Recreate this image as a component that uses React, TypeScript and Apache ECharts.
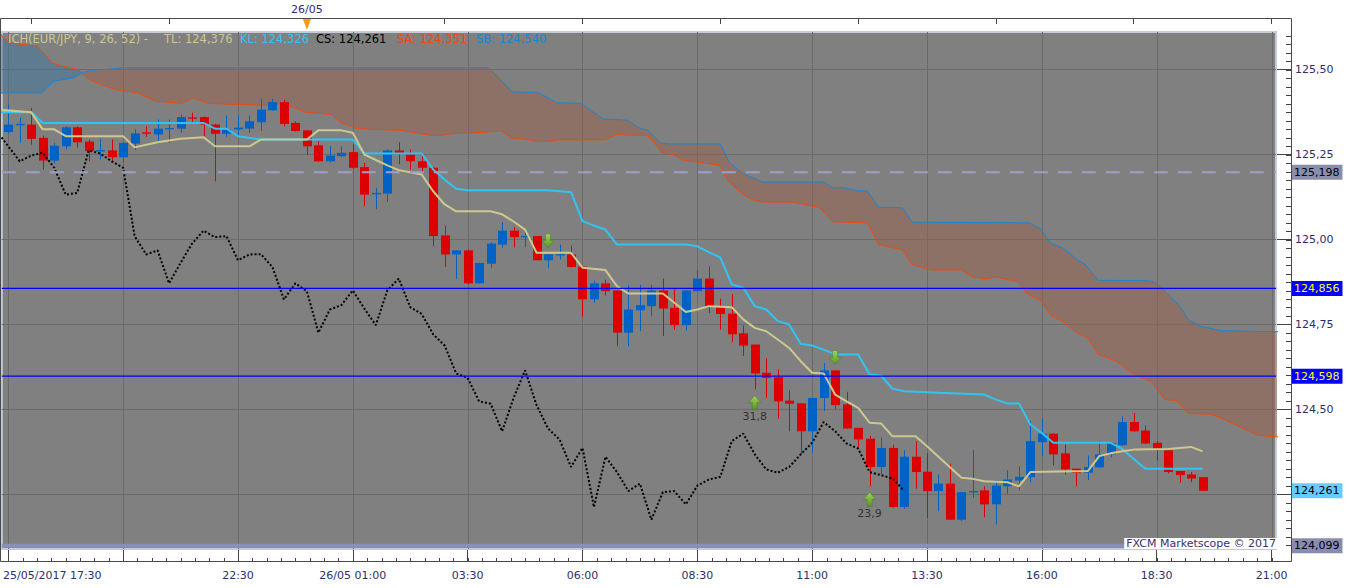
import React, { useEffect, useRef } from 'react';
import * as echarts from 'echarts';

// ---------- candles (15 min bars, index 0 = 25/05 17:30) ----------
const opens = [
  125.316, 125.336, 125.338, 125.299, 125.232, 125.274, 125.330, 125.288, 125.259, 125.262,
  125.242, 125.282, 125.315, 125.309, 125.325, 125.326, 125.359, 125.360, 125.338, 125.311,
  125.324, 125.326, 125.345, 125.380, 125.404, 125.343, 125.321, 125.277, 125.230, 125.245,
  125.257, 125.213, 125.133, 125.135, 125.262, 125.250, 125.230, 125.211, 125.012, 124.956,
  124.968, 124.871, 124.929, 124.985, 125.026, 125.008, 125.010, 124.939, 124.954, 124.956,
  124.920, 124.824, 124.871, 124.850, 124.726, 124.792, 124.804, 124.850, 124.799, 124.748,
  124.848, 124.885, 124.801, 124.782, 124.724, 124.691, 124.608, 124.595, 124.526, 124.518,
  124.436, 124.534, 124.615, 124.515, 124.446, 124.414, 124.331, 124.387, 124.213, 124.361,
  124.317, 124.260, 124.282, 124.176, 124.258, 124.262, 124.221, 124.274, 124.291, 124.301,
  124.404, 124.429, 124.371, 124.326, 124.314, 124.330, 124.368, 124.395, 124.463, 124.438,
  124.402, 124.380, 124.319, 124.309, 124.301,
];
const highs = [
  125.397, 125.358, 125.387, 125.306, 125.284, 125.333, 125.333, 125.294, 125.296, 125.294,
  125.286, 125.324, 125.333, 125.353, 125.353, 125.368, 125.373, 125.362, 125.340, 125.365,
  125.365, 125.365, 125.414, 125.414, 125.410, 125.348, 125.322, 125.289, 125.276, 125.274,
  125.279, 125.226, 125.152, 125.265, 125.286, 125.265, 125.250, 125.212, 125.041, 124.968,
  124.971, 124.932, 124.992, 125.051, 125.037, 125.031, 125.010, 124.958, 124.985, 124.982,
  124.921, 124.879, 124.882, 124.851, 124.865, 124.866, 124.866, 124.885, 124.856, 124.851,
  124.910, 124.921, 124.826, 124.840, 124.747, 124.691, 124.650, 124.618, 124.556, 124.518,
  124.534, 124.637, 124.615, 124.552, 124.446, 124.422, 124.417, 124.397, 124.380, 124.407,
  124.373, 124.309, 124.341, 124.257, 124.382, 124.274, 124.292, 124.321, 124.333, 124.466,
  124.474, 124.429, 124.397, 124.326, 124.365, 124.407, 124.404, 124.480, 124.490, 124.453,
  124.407, 124.380, 124.319, 124.316, 124.301,
];
const lows = [
  125.312, 125.284, 125.279, 125.206, 125.224, 125.265, 125.270, 125.230, 125.235, 125.230,
  125.226, 125.263, 125.302, 125.284, 125.284, 125.314, 125.345, 125.304, 125.171, 125.302,
  125.302, 125.314, 125.319, 125.378, 125.333, 125.318, 125.248, 125.228, 125.226, 125.242,
  125.208, 125.098, 125.090, 125.110, 125.221, 125.206, 125.196, 124.980, 124.919, 124.884,
  124.868, 124.870, 124.917, 124.976, 124.977, 124.977, 124.939, 124.917, 124.941, 124.917,
  124.773, 124.814, 124.835, 124.686, 124.686, 124.731, 124.774, 124.716, 124.735, 124.732,
  124.846, 124.784, 124.735, 124.698, 124.657, 124.559, 124.534, 124.473, 124.436, 124.368,
  124.373, 124.495, 124.502, 124.443, 124.387, 124.274, 124.309, 124.211, 124.208, 124.267,
  124.181, 124.201, 124.176, 124.172, 124.240, 124.183, 124.162, 124.252, 124.262, 124.286,
  124.363, 124.336, 124.309, 124.274, 124.292, 124.328, 124.360, 124.393, 124.434, 124.398,
  124.350, 124.312, 124.284, 124.286, 124.260,
];
const closes = [
  125.338, 125.340, 125.296, 125.232, 125.276, 125.330, 125.286, 125.260, 125.263, 125.242,
  125.284, 125.312, 125.313, 125.326, 125.328, 125.360, 125.356, 125.338, 125.311, 125.324,
  125.329, 125.348, 125.382, 125.404, 125.340, 125.319, 125.274, 125.230, 125.247, 125.255,
  125.211, 125.132, 125.137, 125.262, 125.253, 125.230, 125.211, 125.010, 124.956, 124.968,
  124.871, 124.931, 124.988, 125.026, 125.007, 125.010, 124.939, 124.956, 124.957, 124.919,
  124.824, 124.871, 124.848, 124.726, 124.794, 124.807, 124.850, 124.797, 124.748, 124.850,
  124.885, 124.801, 124.781, 124.721, 124.688, 124.606, 124.593, 124.524, 124.517, 124.436,
  124.534, 124.615, 124.513, 124.444, 124.412, 124.331, 124.387, 124.213, 124.361, 124.316,
  124.260, 124.282, 124.176, 124.257, 124.260, 124.221, 124.276, 124.294, 124.302, 124.407,
  124.429, 124.368, 124.324, 124.314, 124.331, 124.368, 124.402, 124.463, 124.436, 124.400,
  124.385, 124.316, 124.307, 124.297, 124.261,
];

// ---------- Ichimoku lines: [bar index, price] ----------
const tenkan: [number, number][] = [
  [-1, 125.382], [2, 125.374], [3, 125.324], [4, 125.324], [5, 125.304], [10, 125.304], [11, 125.271],
  [13, 125.286], [15, 125.296], [17, 125.301], [18, 125.274], [21, 125.274], [22, 125.294], [26, 125.294],
  [27, 125.321], [29, 125.321], [30, 125.314], [31, 125.250], [33, 125.218], [34, 125.204], [36, 125.191],
  [37, 125.142], [38, 125.103], [39, 125.083], [42, 125.083], [43, 125.074], [44, 125.053], [45, 125.029],
  [46, 124.961], [49, 124.961], [50, 124.917], [52, 124.910], [53, 124.863], [54, 124.841], [57, 124.841],
  [59, 124.787], [60, 124.794], [61, 124.804], [63, 124.801], [64, 124.765], [65, 124.740], [66, 124.730],
  [67, 124.706], [68, 124.681], [69, 124.642], [70, 124.608], [71, 124.606], [72, 124.544], [73, 124.524],
  [74, 124.505], [75, 124.461], [76, 124.459], [77, 124.421], [79, 124.421], [80, 124.392], [83, 124.299],
  [84, 124.296], [85, 124.289], [87, 124.286], [88, 124.274], [89, 124.316], [94, 124.319], [95, 124.363],
  [96, 124.371], [97, 124.377], [98, 124.382], [101, 124.384], [103, 124.390], [104, 124.377],
];
const kijun: [number, number][] = [
  [-1, 125.374], [2, 125.374], [3, 125.343], [17, 125.343], [18, 125.326], [19, 125.326], [20, 125.304],
  [22, 125.294], [30, 125.294], [31, 125.253], [36, 125.253], [37, 125.206], [38, 125.176], [39, 125.149],
  [40, 125.145], [47, 125.145], [48, 125.142], [49, 125.139], [50, 125.054], [51, 125.041], [52, 125.029],
  [53, 124.985], [59, 124.985], [60, 124.980], [61, 124.963], [62, 124.947], [63, 124.868], [64, 124.858],
  [65, 124.804], [66, 124.794], [67, 124.760], [68, 124.750], [69, 124.693], [70, 124.688], [71, 124.676],
  [72, 124.662], [74, 124.662], [75, 124.603], [76, 124.600], [77, 124.561], [78, 124.554], [81, 124.549],
  [85, 124.544], [86, 124.529], [87, 124.518], [88, 124.518], [89, 124.456], [90, 124.431], [91, 124.402],
  [96, 124.402], [97, 124.384], [99, 124.326], [104, 124.326],
];
const senkouA: [number, number][] = [
  [-1, 125.62], [-0.5, 125.598], [0, 125.579], [1.2, 125.574], [2.5, 125.569], [3.2, 125.544], [3.8, 125.52],
  [5.3, 125.505], [6.1, 125.5], [7, 125.471], [8.1, 125.456], [9.3, 125.441], [11.3, 125.431], [12.8, 125.407],
  [15.1, 125.4], [16.1, 125.417], [17.4, 125.4], [20.3, 125.397], [22.6, 125.394], [23.8, 125.4], [24.9, 125.387],
  [25.9, 125.374], [28.1, 125.368], [29, 125.343], [30.4, 125.326], [34.2, 125.321], [36.8, 125.306],
  [37.7, 125.306], [38.8, 125.312], [40, 125.312], [42.9, 125.319], [43.9, 125.296], [44.9, 125.296],
  [46.1, 125.288], [47, 125.288], [47.8, 125.293], [52, 125.293], [52.9, 125.308], [55.6, 125.306],
  [56, 125.296], [56.9, 125.255], [57.9, 125.25], [58.8, 125.233], [60.7, 125.224], [62, 125.218],
  [62.7, 125.171], [64, 125.132], [64.9, 125.116], [65.7, 125.11], [68.3, 125.11], [69.8, 125.1],
  [70.6, 125.095], [71.8, 125.052], [74.8, 125.049], [75.8, 124.985], [77.9, 124.969], [78.7, 124.926],
  [80.5, 124.91], [83, 124.91], [84, 124.89], [85.2, 124.884], [85.9, 124.89], [87.8, 124.877], [88.8, 124.838],
  [89.9, 124.821], [90.8, 124.776], [91.8, 124.76], [93, 124.727], [94, 124.711], [94.9, 124.662],
  [96.5, 124.642], [97.8, 124.608], [99.6, 124.58], [100.7, 124.529], [101.7, 124.527], [102.8, 124.488],
  [104.8, 124.486], [106.5, 124.461], [108.8, 124.424], [110.3, 124.42], [111, 124.418],
];
const senkouB: [number, number][] = [
  [-1, 125.431], [2.9, 125.431], [4, 125.466], [5.7, 125.476], [6.4, 125.49], [7.3, 125.498], [9.3, 125.502],
  [9.9, 125.505], [41.8, 125.505], [42, 125.5], [43.9, 125.434], [46.1, 125.433], [47.8, 125.402],
  [49.8, 125.401], [51.8, 125.355], [53.9, 125.351], [54.9, 125.329], [55.7, 125.321], [56.8, 125.284],
  [57.5, 125.281], [62, 125.281], [62.8, 125.226], [64, 125.193], [65.7, 125.169], [71, 125.169],
  [71.8, 125.152], [72.8, 125.152], [73.8, 125.144], [74.8, 125.142], [75.8, 125.095], [77.9, 125.093],
  [78.7, 125.051], [88.9, 125.049], [89.9, 125.031], [90.8, 124.988], [91.8, 124.976], [93, 124.943],
  [93.8, 124.926], [94.9, 124.88], [99.3, 124.879], [99.9, 124.873], [101.9, 124.809], [102.8, 124.763],
  [103.8, 124.745], [105.6, 124.732], [108.3, 124.73], [110.3, 124.729], [111, 124.729],
];
const CHIKOU_SHIFT = 26;

// ---------- signals ----------
const sellSignalBars = [47, 72];
const buySignalBars = [65, 75];
const buySignalLabels = ['31,8', '23,9'];

// ---------- levels / axes ----------
const blueLevels = [124.856, 124.598];
const dashedLevels = [125.198];
const bottomLevels = [124.099];
const highlightValues = [125.198, 124.856, 124.598, 124.261, 124.099];
const highlightBg = ['#8a8eac', '#0000ff', '#0000ff', '#66ccff', '#8a8bb0'];
const highlightFg = ['#000000', '#ffff00', '#ffff00', '#000000', '#000000'];
const priceGridValues = [124.25, 124.5, 124.75, 125.0, 125.25, 125.5];
const priceLabelValues = [124.5, 124.75, 125.0, 125.25, 125.5];
const priceMinorStep = 0.025;
const timeTickBars = [0, 10, 20, 30, 40, 50, 60, 70, 80, 90, 100, 110];
const timeMinorStep = 1.25;
const timeLabelBars = [0, 20, 30, 40, 50, 60, 70, 80, 90, 100, 110];
const timeLabels = ['25/05/2017 17:30', '22:30', '26/05 01:00', '03:30', '06:00', '08:30', '11:00', '13:30', '16:00', '18:30', '21:00'];
const hourTickBars = [2, 14, 26, 38, 50, 62, 74, 86, 98, 110];
const dayMarkBars = [26];
const dayMarkLabels = ['26/05'];

const legendParts = [
  { text: 'ICH(EUR/JPY, 9, 26, 52) -', color: '#cdc88e', left: 8 },
  { text: 'TL: 124,376', color: '#cdc88e', left: 164 },
  { text: 'KL: 124,326', color: '#2ec5f5', left: 240 },
  { text: 'CS: 124,261', color: '#000000', left: 316 },
  { text: 'SA: 124,351', color: '#f04a0c', left: 397 },
  { text: 'SB: 124,540', color: '#1a86d0', left: 476 },
];

const FONT = '"DejaVu Sans", Verdana, sans-serif';
const X_MIN = -0.565;
const X_MAX = 110.39;
const Y_MIN = 124.0897;
const Y_MAX = 125.6103;
const UP = '#0062c4';
const DOWN = '#dc0000';
const GRID_C = '#6b6b6b';
const AXIS_TXT = '#2e2e6a';
const TICK_C = '#444444';

const fmt = (v: number, d: number) => v.toFixed(d).replace('.', ',');

function evalLine(pts: [number, number][], x: number) {
  if (x <= pts[0][0]) return pts[0][1];
  for (let k = 1; k < pts.length; k++) {
    if (x <= pts[k][0]) {
      const [x0, y0] = pts[k - 1];
      const [x1, y1] = pts[k];
      return y0 + ((y1 - y0) * (x - x0)) / (x1 - x0);
    }
  }
  return pts[pts.length - 1][1];
}
function findCross(a: [number, number][], b: [number, number][]): [number, number] {
  const xs = Array.from(new Set([...a.map((p) => p[0]), ...b.map((p) => p[0])])).sort((m, n) => m - n);
  for (let k = 1; k < xs.length; k++) {
    const d0 = evalLine(a, xs[k - 1]) - evalLine(b, xs[k - 1]);
    const d1 = evalLine(a, xs[k]) - evalLine(b, xs[k]);
    if (d0 > 0 && d1 <= 0) {
      const x = xs[k - 1] + ((xs[k] - xs[k - 1]) * d0) / (d0 - d1);
      return [x, evalLine(a, x)];
    }
  }
  return [xs[0], evalLine(a, xs[0])];
}

function hLineSeries(values: number[], style: any, z: number) {
  return {
    type: 'custom',
    silent: true,
    z,
    clip: true,
    data: values.map((v) => [X_MIN, v]),
    encode: { x: 0, y: 1 },
    renderItem: (params: any, api: any) => {
      const y = api.coord([X_MIN, api.value(1)])[1];
      const cs = params.coordSys;
      return { type: 'line', shape: { x1: cs.x, y1: y, x2: cs.x + cs.width, y2: y }, style };
    },
  };
}

function buildOption() {
  const candleData = opens.map((o, i) => [i, o, closes[i], lows[i], highs[i]]);
  const chikouData = closes.slice(CHIKOU_SHIFT - 1).map((c, k) => [k - 1, c]);
  const minorX: number[] = [];
  for (let k = 0; k * timeMinorStep <= 110; k++) minorX.push(k * timeMinorStep);
  const minorY: number[] = [];
  for (let k = 0; 124.1 + k * priceMinorStep <= 125.6001; k++) minorY.push(+(124.1 + k * priceMinorStep).toFixed(3));

  const arrowDown = 'path://M3.5,0 L8.5,0 L8.5,7 L12,7 L6,14 L0,7 L3.5,7 Z';
  const arrowUp = 'path://M6,0 L12,7 L8.5,7 L8.5,14 L3.5,14 L3.5,7 L0,7 Z';
  const green = new echarts.graphic.LinearGradient(0, 0, 0, 1, [
    { offset: 0, color: '#aee456' },
    { offset: 1, color: '#4f9a14' },
  ]);

  return {
    animation: false,
    backgroundColor: '#ffffff',
    textStyle: { fontFamily: FONT },
    grid: {
      left: 0, top: 32, width: 1276, height: 517, show: true,
      backgroundColor: '#808080', borderColor: '#c6cad6', borderWidth: 2,
    },
    xAxis: [
      {
        type: 'value', min: X_MIN, max: X_MAX, position: 'bottom', offset: 13,
        splitLine: { show: false },
        axisLine: { show: false, onZero: false },
        axisTick: { show: true, inside: true, length: 12, customValues: timeTickBars, lineStyle: { color: TICK_C } },
        axisLabel: {
          customValues: timeLabelBars, margin: 8, color: AXIS_TXT, fontSize: 11, fontFamily: FONT,
          formatter: (v: number) => {
            const k = timeLabelBars.findIndex((b) => Math.abs(b - v) < 1e-6);
            const t = k >= 0 ? timeLabels[k] : '';
            return k === 0 ? `{first|${t}}` : t;
          },
          rich: { first: { padding: [0, 0, 0, 88], color: AXIS_TXT, fontSize: 11, fontFamily: FONT } },
        },
      },
      {
        type: 'value', min: X_MIN, max: X_MAX, position: 'top', offset: 14,
        splitLine: { show: false },
        axisLine: { show: false, onZero: false },
        axisTick: { show: true, inside: true, length: 6, customValues: hourTickBars, lineStyle: { color: TICK_C } },
        axisLabel: {
          customValues: dayMarkBars, margin: 3, color: AXIS_TXT, fontSize: 11, fontFamily: FONT,
          formatter: (v: number) => {
            const k = dayMarkBars.findIndex((b) => Math.abs(b - v) < 1e-6);
            return k >= 0 ? dayMarkLabels[k] : '';
          },
        },
      },
    ],
    yAxis: [
      {
        type: 'value', min: Y_MIN, max: Y_MAX, position: 'right', offset: 15,
        splitLine: { show: false },
        axisLine: { show: false, onZero: false },
        axisTick: { show: true, inside: true, length: 14, customValues: priceGridValues, lineStyle: { color: TICK_C } },
        axisLabel: { customValues: priceLabelValues, margin: 4, color: AXIS_TXT, fontSize: 11, fontFamily: FONT, formatter: (v: number) => fmt(v, 2) },
      },
    ],
    series: [
      // vertical grid lines
      {
        type: 'custom', silent: true, z: 1, clip: true,
        data: timeTickBars.map((v) => [v, Y_MIN]),
        encode: { x: 0, y: 1 },
        renderItem: (params: any, api: any) => {
          const x = Math.round(api.coord([api.value(0), Y_MIN])[0]) + 0.5;
          const cs = params.coordSys;
          return { type: 'line', shape: { x1: x, y1: cs.y, x2: x, y2: cs.y + cs.height }, style: { stroke: GRID_C, lineWidth: 1 } };
        },
      },
      // horizontal grid lines
      hLineSeries(priceGridValues, { stroke: GRID_C, lineWidth: 1 }, 1),
      // minor price ticks on the right scale
      {
        type: 'custom', silent: true, z: 1, clip: false,
        data: minorY.map((v) => [X_MAX, v]),
        encode: { x: 0, y: 1 },
        renderItem: (params: any, api: any) => {
          const y = Math.round(api.coord([X_MAX, api.value(1)])[1]) + 0.5;
          const cs = params.coordSys;
          const xr = cs.x + cs.width + 15;
          return { type: 'line', shape: { x1: xr - 5, y1: y, x2: xr, y2: y }, style: { stroke: TICK_C, lineWidth: 1 } };
        },
      },
      // minor time ticks on the bottom scale
      {
        type: 'custom', silent: true, z: 1, clip: false,
        data: minorX.map((v) => [v, Y_MIN]),
        encode: { x: 0, y: 1 },
        renderItem: (params: any, api: any) => {
          const x = Math.round(api.coord([api.value(0), Y_MIN])[0]) + 0.5;
          const cs = params.coordSys;
          const yb = cs.y + cs.height + 13;
          return { type: 'line', shape: { x1: x, y1: yb - 4, x2: x, y2: yb }, style: { stroke: TICK_C, lineWidth: 1 } };
        },
      },
      // day separator marker on the top scale
      {
        type: 'custom', silent: true, z: 9, clip: false,
        data: dayMarkBars.map((v) => [v, Y_MAX]),
        encode: { x: 0, y: 1 },
        renderItem: (params: any, api: any) => {
          const x = api.coord([api.value(0), Y_MAX])[0];
          const cs = params.coordSys;
          const t = cs.y - 14;
          return {
            type: 'polygon',
            shape: { points: [[x - 4, t + 1], [x + 4, t + 1], [x, t + 12]] },
            style: { fill: '#ff9a1a' },
          };
        },
      },
      // highlighted price labels on the right scale
      {
        type: 'custom', silent: true, z: 9, clip: false,
        data: highlightValues.map((v) => [X_MAX, v]),
        encode: { x: 0, y: 1 },
        renderItem: (params: any, api: any) => {
          const k = params.dataIndex;
          const y = api.coord([X_MAX, api.value(1)])[1];
          const cs = params.coordSys;
          return {
            type: 'text',
            x: cs.x + cs.width + 16,
            y,
            style: {
              text: fmt(highlightValues[k], 3),
              fill: highlightFg[k],
              backgroundColor: highlightBg[k],
              padding: [2, 3, 2, 2],
              fontSize: 11,
              fontFamily: FONT,
              align: 'left',
              verticalAlign: 'middle',
            },
          };
        },
      },
      // cloud fill
      {
        type: 'custom', silent: true, z: 2, clip: true,
        data: [[0, 125]],
        encode: { x: 0, y: 1 },
        renderItem: (params: any, api: any) => {
          const cross = findCross(senkouA, senkouB);
          const px = (p: [number, number]) => api.coord(p);
          const bull = [
            ...senkouA.filter((p) => p[0] < cross[0]),
            cross,
            ...senkouB.filter((p) => p[0] < cross[0]).slice().reverse(),
          ].map(px);
          const bear = [
            cross,
            ...senkouA.filter((p) => p[0] > cross[0]),
            ...senkouB.filter((p) => p[0] > cross[0]).slice().reverse(),
          ].map(px);
          return {
            type: 'group',
            children: [
              { type: 'polygon', shape: { points: bull }, style: { fill: 'rgba(60,118,158,0.5)' } },
              { type: 'polygon', shape: { points: bear }, style: { fill: 'rgba(154,96,76,0.5)' } },
            ],
          };
        },
      },
      {
        type: 'line', name: 'SA', data: senkouA, showSymbol: false, silent: true, z: 3,
        lineStyle: { color: '#f04a0c', width: 1 },
      },
      {
        type: 'line', name: 'SB', data: senkouB, showSymbol: false, silent: true, z: 3,
        lineStyle: { color: '#1a86d0', width: 1 },
      },
      // candles
      {
        type: 'custom', name: 'EUR/JPY', z: 5, clip: true, silent: true,
        data: candleData,
        encode: { x: 0, y: [1, 2, 3, 4] },
        renderItem: (params: any, api: any) => {
          const i = api.value(0);
          const o = api.value(1);
          const c = api.value(2);
          const l = api.value(3);
          const h = api.value(4);
          const pO = api.coord([i, o]);
          const yC = api.coord([i, c])[1];
          const yL = api.coord([i, l])[1];
          const yH = api.coord([i, h])[1];
          const bw = Math.round(api.size([0.7, 0])[0]);
          const color = c >= o ? UP : DOWN;
          const wx = Math.round(pO[0]) + 0.5;
          const top = Math.min(pO[1], yC);
          const hgt = Math.max(Math.abs(pO[1] - yC), 1.3);
          return {
            type: 'group',
            children: [
              { type: 'line', shape: { x1: wx, y1: yH, x2: wx, y2: yL }, style: { stroke: color, lineWidth: 1 } },
              { type: 'rect', shape: { x: wx - 0.5 - bw / 2, y: top, width: bw + 1, height: hgt }, style: { fill: color } },
            ],
          };
        },
      },
      {
        type: 'line', name: 'CS', data: chikouData, showSymbol: false, silent: true, z: 6,
        lineStyle: { color: '#000000', width: 2, type: [2, 2], cap: 'butt' },
      },
      {
        type: 'line', name: 'KL', data: kijun, showSymbol: false, silent: true, z: 6,
        lineStyle: { color: '#2ec5f5', width: 2 },
      },
      {
        type: 'line', name: 'TL', data: tenkan, showSymbol: false, silent: true, z: 6,
        lineStyle: { color: '#cdc88e', width: 2 },
      },
      hLineSeries(dashedLevels, { stroke: '#9c9ec8', lineWidth: 2, lineDash: [14, 10] }, 7),
      hLineSeries(blueLevels, { stroke: '#0000ff', lineWidth: 1.2 }, 7),
      hLineSeries(bottomLevels, { stroke: '#8890b8', lineWidth: 4 }, 7),
      {
        type: 'scatter', silent: true, z: 8,
        data: sellSignalBars.map((b) => [b, highs[b]]),
        symbol: arrowDown, symbolSize: [12, 14], symbolOffset: [0, -13],
        itemStyle: { color: green, borderColor: '#3f7d10', borderWidth: 0.6 },
      },
      {
        type: 'scatter', silent: true, z: 8,
        data: buySignalBars.map((b, k) => ({ value: [b, lows[b]], label: { formatter: buySignalLabels[k] } })),
        symbol: arrowUp, symbolSize: [12, 14], symbolOffset: [0, 13],
        itemStyle: { color: green, borderColor: '#3f7d10', borderWidth: 0.6 },
        label: { show: true, position: 'bottom', distance: 1, color: '#1a1a1a', fontSize: 11, fontFamily: FONT },
      },
    ],
    graphic: [
      {
        type: 'rect', z: 100, silent: true,
        shape: { x: 0.5, y: 18.5, width: 1291, height: 543 },
        style: { fill: 'none', stroke: '#4a4a4a', lineWidth: 1 },
      },
      ...legendParts.map((p) => ({
        type: 'text', z: 100, silent: true, left: p.left, top: 33,
        style: { text: p.text, fill: p.color, fontSize: 11.5, fontFamily: FONT },
      })),
      {
        type: 'text', z: 100, silent: true, right: 72, bottom: 39,
        style: {
          text: 'FXCM Marketscope © 2017', fill: '#3b2f72', fontSize: 11, fontFamily: FONT,
          backgroundColor: '#ffffff', padding: [0, 1, 0, 2],
        },
      },
    ],
  };
}

export default function App() {
  const ref = useRef<HTMLDivElement>(null);
  useEffect(() => {
    if (!ref.current) return;
    const chart = echarts.init(ref.current, null, { renderer: 'svg' });
    chart.setOption(buildOption() as any);
    return () => chart.dispose();
  }, []);
  return <div ref={ref} style={{ position: 'absolute', left: 0, top: 0, width: 1349, height: 588 }} />;
}
